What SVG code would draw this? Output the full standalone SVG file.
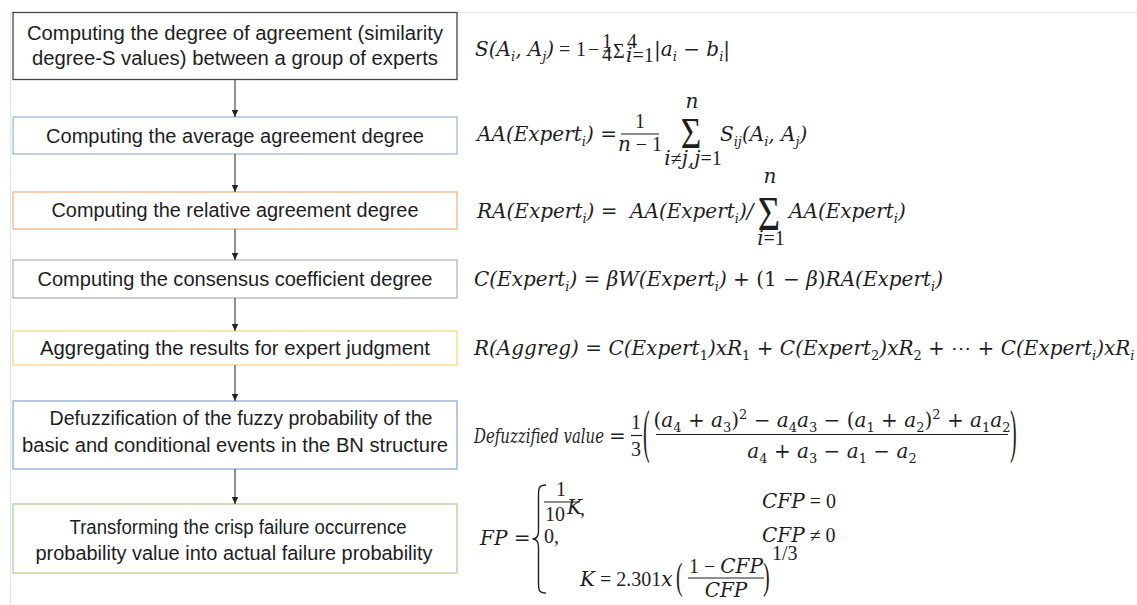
<svg xmlns="http://www.w3.org/2000/svg" width="1137" height="605" viewBox="0 0 1137 605">
<style>
.box{fill:#fff;stroke-width:1.3}
.t{font-family:"Liberation Sans",Arial,sans-serif;font-size:20px;fill:#1e1e1e;text-anchor:middle}
.m{font-family:"DejaVu Serif",serif;font-style:italic;font-size:20px;fill:#1e1e1e}
.u{font-style:normal}
.r{font-family:"Liberation Serif",serif;font-style:normal}
.s{font-size:13px}
.mid{text-anchor:middle}
.big{font-family:"Liberation Serif",serif;font-style:normal;fill:#1e1e1e}
.bar{stroke:#1e1e1e;stroke-width:1.2}
.c line{stroke:#222;stroke-width:1}
.frame{stroke:#dce8f1;stroke-width:1.2;fill:none}
</style>
<defs>
<marker id="ah" markerWidth="8" markerHeight="8" refX="7" refY="4" orient="auto" markerUnits="userSpaceOnUse"><path d="M0,0.8 L7,4 L0,7.2 z" fill="#222"/></marker>
</defs>
<rect width="1137" height="605" fill="#fff"/>
<path class="frame" d="M10.5,605 L10.5,12.5 L1137,12.5"/>

<g id="n1"><rect class="box" x="13" y="12.5" width="444" height="67" stroke="#454545"/>
<text class="t" x="235" y="40" textLength="416" lengthAdjust="spacingAndGlyphs">Computing the degree of agreement (similarity</text>
<text class="t" x="235" y="65" textLength="406" lengthAdjust="spacingAndGlyphs">degree-S values) between a group of experts</text></g>

<g id="n2"><rect class="box" x="13" y="117" width="444" height="37" stroke="#9db8dc"/>
<text class="t" x="235" y="143" textLength="378" lengthAdjust="spacingAndGlyphs">Computing the average agreement degree</text></g>

<g id="n3"><rect class="box" x="13" y="192" width="444" height="37" stroke="#f0b68c"/>
<text class="t" x="235" y="217" textLength="367" lengthAdjust="spacingAndGlyphs">Computing the relative agreement degree</text></g>

<g id="n4"><rect class="box" x="13" y="260" width="444" height="38" stroke="#b4b4b4"/>
<text class="t" x="235" y="286" textLength="395" lengthAdjust="spacingAndGlyphs">Computing the consensus coefficient degree</text></g>

<g id="n5"><rect class="box" x="13" y="331" width="444" height="34" stroke="#f5dc82"/>
<text class="t" x="235" y="355" textLength="390" lengthAdjust="spacingAndGlyphs">Aggregating the results for expert judgment</text></g>

<g id="n6"><rect class="box" x="13" y="401" width="444" height="68" stroke="#90acd6"/>
<text class="t" x="241" y="425" textLength="383" lengthAdjust="spacingAndGlyphs">Defuzzification of the fuzzy probability of the</text>
<text class="t" x="235" y="452" textLength="426" lengthAdjust="spacingAndGlyphs">basic and conditional events in the BN structure</text></g>

<g id="n7"><rect class="box" x="13" y="504" width="444" height="69" stroke="#b2d096"/>
<text class="t" x="238" y="534" textLength="337" lengthAdjust="spacingAndGlyphs">Transforming the crisp failure occurrence</text>
<text class="t" x="234" y="560" textLength="397" lengthAdjust="spacingAndGlyphs">probability value into actual failure probability</text></g>

<g id="connectors" class="c">
<line x1="235" y1="79.5" x2="235" y2="117" marker-end="url(#ah)"/>
<line x1="235" y1="154" x2="235" y2="192" marker-end="url(#ah)"/>
<line x1="235" y1="229" x2="235" y2="260" marker-end="url(#ah)"/>
<line x1="235" y1="298" x2="235" y2="331" marker-end="url(#ah)"/>
<line x1="235" y1="365" x2="235" y2="401" marker-end="url(#ah)"/>
<line x1="235" y1="469" x2="235" y2="504" marker-end="url(#ah)"/>
</g>

<g id="f1">
<text class="m" x="475" y="56">S(A<tspan class="s" dy="5">i</tspan><tspan dy="-5">, A</tspan><tspan class="s" dy="5">j</tspan><tspan dy="-5">)</tspan></text>
<text class="m r" font-size="21" x="559" y="56">=</text>
<text class="m r" font-size="21" x="576" y="56">1</text>
<text class="m r" font-size="21" x="588" y="56">−</text>
<text class="m r mid" font-size="11" x="607" y="48">1</text>
<line class="bar" x1="603.5" y1="51" x2="610.5" y2="51" stroke-width="0.8"/>
<text class="m r mid" font-size="11" x="607" y="61">4</text>
<text class="big" font-size="20" x="613" y="58">Σ</text>
<text class="m r" font-size="12" x="627" y="48">4</text>
<text class="m" font-size="12" x="626" y="62">i<tspan class="r">=1</tspan></text>
<text class="m" x="654" y="56"><tspan class="u">|</tspan>a<tspan class="s" dy="5">i</tspan><tspan class="u" dy="-5"> − </tspan>b<tspan class="s" dy="5">i</tspan><tspan class="u" dy="-5">|</tspan></text>
</g>

<g id="f2">
<text class="m" x="477" y="141">AA(Expert<tspan class="s" dy="5">i</tspan><tspan dy="-5">) </tspan><tspan class="u">=</tspan></text>
<text class="m r mid" x="640" y="128">1</text>
<line class="bar" x1="621" y1="134" x2="659" y2="134"/>
<text class="m mid" x="640" y="151">n<tspan class="r"> − 1</tspan></text>
<text class="big mid" font-size="44" transform="translate(691,148) scale(0.8,1)">Σ</text>
<text class="m mid" font-size="14" x="692" y="108">n</text>
<text class="m mid" font-size="13" x="693" y="165">i<tspan class="r">≠</tspan>j,j<tspan class="r">=1</tspan></text>
<text class="m" x="720" y="141">S<tspan class="s" dy="5">ij</tspan><tspan dy="-5">(A</tspan><tspan class="s" dy="5">i</tspan><tspan dy="-5">, A</tspan><tspan class="s" dy="5">j</tspan><tspan dy="-5">)</tspan></text>
</g>

<g id="f3">
<text class="m" x="477" y="218">RA(Expert<tspan class="s" dy="5">i</tspan><tspan dy="-5">) </tspan><tspan class="u">=</tspan></text>
<text class="m" x="630" y="218">AA(Expert<tspan class="s" dy="5">i</tspan><tspan dy="-5">)/</tspan></text>
<text class="big mid" font-size="48" transform="translate(769,230) scale(0.8,1)">Σ</text>
<text class="m mid" font-size="14" x="770" y="183">n</text>
<text class="m mid" font-size="13" x="771" y="245">i<tspan class="r">=1</tspan></text>
<text class="m" x="789" y="218">AA(Expert<tspan class="s" dy="5">i</tspan><tspan dy="-5">)</tspan></text>
</g>

<g id="f4">
<text class="m" x="474" y="286">C(Expert<tspan class="s" dy="5">i</tspan><tspan dy="-5">) </tspan><tspan class="u">= </tspan>βW(Expert<tspan class="s" dy="5">i</tspan><tspan dy="-5">) </tspan><tspan class="u">+ (1 − </tspan>β<tspan class="u">)</tspan>RA(Expert<tspan class="s" dy="5">i</tspan><tspan dy="-5">)</tspan></text>
</g>

<g id="f5">
<text class="m" x="474" y="355">R(Aggreg) <tspan class="u">= </tspan>C(Expert<tspan class="s u" dy="5">1</tspan><tspan dy="-5">)xR</tspan><tspan class="s u" dy="5">1</tspan><tspan class="u" dy="-5"> + </tspan>C(Expert<tspan class="s u" dy="5">2</tspan><tspan dy="-5">)xR</tspan><tspan class="s u" dy="5">2</tspan><tspan class="u" dy="-5"> + ⋯ + </tspan>C(Expert<tspan class="s" dy="5">i</tspan><tspan dy="-5">)xR</tspan><tspan class="s" dy="5">i</tspan></text>
</g>

<g id="f6">
<text class="m" font-size="19" x="474" y="443" textLength="130" lengthAdjust="spacingAndGlyphs">Defuzzified value</text>
<text class="m u" font-size="18" x="609" y="443">=</text>
<text class="m r mid" x="636" y="429">1</text>
<line class="bar" x1="631" y1="435.5" x2="642" y2="435.5"/>
<text class="m r mid" x="636" y="456">3</text>
<text class="big" font-size="20" transform="translate(643,451) scale(1,3)">(</text>
<text class="m mid" x="832" y="427"><tspan class="u">(</tspan>a<tspan class="s u" dy="5">4</tspan><tspan class="u" dy="-5"> + </tspan>a<tspan class="s u" dy="5">3</tspan><tspan class="u" dy="-5">)</tspan><tspan class="s u" dy="-8">2</tspan><tspan class="u" dy="8"> − </tspan>a<tspan class="s u" dy="5">4</tspan><tspan dy="-5">a</tspan><tspan class="s u" dy="5">3</tspan><tspan class="u" dy="-5"> − (</tspan>a<tspan class="s u" dy="5">1</tspan><tspan class="u" dy="-5"> + </tspan>a<tspan class="s u" dy="5">2</tspan><tspan class="u" dy="-5">)</tspan><tspan class="s u" dy="-8">2</tspan><tspan class="u" dy="8"> + </tspan>a<tspan class="s u" dy="5">1</tspan><tspan dy="-5">a</tspan><tspan class="s u" dy="5">2</tspan></text>
<line class="bar" x1="656" y1="434.5" x2="1008" y2="434.5"/>
<text class="m mid" x="832" y="458">a<tspan class="s u" dy="5">4</tspan><tspan class="u" dy="-5"> + </tspan>a<tspan class="s u" dy="5">3</tspan><tspan class="u" dy="-5"> − </tspan>a<tspan class="s u" dy="5">1</tspan><tspan class="u" dy="-5"> − </tspan>a<tspan class="s u" dy="5">2</tspan></text>
<text class="big" font-size="20" transform="translate(1010,451) scale(1,3)">)</text>
</g>

<g id="f7">
<text class="m" x="480" y="545">FP <tspan class="u">=</tspan></text>
<path d="M546,485 C539,485 538.5,488 538.5,495 L538.5,531 C538.5,536 537,539 532.5,539 C537,539 538.5,542 538.5,547 L538.5,583 C538.5,590 539,593 546,593" fill="none" stroke="#1e1e1e" stroke-width="1.4"/>
<text class="m r mid" font-size="19" x="561" y="496">1</text>
<line class="bar" x1="544" y1="502" x2="580" y2="502"/>
<text class="m r" font-size="19" x="545" y="521">10</text>
<text class="m" font-size="10" x="567" y="514">K</text>
<text class="m r" font-size="19" x="580" y="515">,</text>
<text class="m r" font-size="19" x="544" y="543">0,</text>
<text class="m" font-size="19" x="762" y="508">CFP<tspan class="r"> = 0</tspan></text>
<text class="m" font-size="19" x="762" y="542">CFP<tspan class="r"> ≠ 0</tspan></text>
<text class="m" font-size="19" x="580" y="586">K<tspan class="r"> = 2.301</tspan>x</text>
<text class="big" font-size="20" transform="translate(676,589) scale(1,1.9)">(</text>
<text class="m mid" font-size="19" x="726" y="573"><tspan class="r">1 − </tspan>CFP</text>
<line class="bar" x1="688" y1="578" x2="764" y2="578"/>
<text class="m mid" font-size="19" x="726" y="597">CFP</text>
<text class="big" font-size="20" transform="translate(763,589) scale(1,1.9)">)</text>
<text class="m r" font-size="13" x="772" y="560">1/3</text>
</g>
</svg>
